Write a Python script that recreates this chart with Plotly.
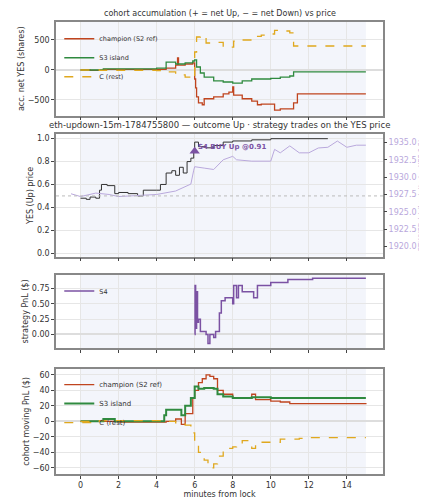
import plotly.graph_objects as go

# panel 1: accumulation
acc_t_ch = [0,0.5,1.2,4.2,4.5,5.0,5.1,5.15,5.5,5.9,6.0,6.05,6.1,6.2,6.4,6.5,7.0,7.5,7.8,8.0,8.05,8.5,9.0,9.3,9.5,10.0,10.2,10.5,11.0,11.2,11.4,15]
acc_ch = [0,-5,10,10,30,80,200,80,100,120,-150,-300,-450,-550,-580,-480,-450,-400,-370,-280,-420,-480,-520,-580,-570,-570,-670,-650,-650,-550,-400,-400]
acc_t_s3 = [0,1.2,4.0,4.5,5.0,5.5,5.9,6.0,6.1,6.3,6.5,7.0,7.5,8.0,8.5,9.0,10.0,10.5,11.0,11.2,15]
acc_s3 = [0,20,30,130,100,120,150,170,50,-50,-120,-180,-200,-220,-180,-150,-140,-120,-100,-30,-30]
acc_t_c = [0,1,4,4.5,5,5.5,5.9,6.0,6.1,6.3,6.6,7.0,7.5,8.0,8.05,8.5,9.0,9.5,10.0,10.2,10.5,11.0,11.2,15]
acc_c = [0,-5,-10,-30,-80,-120,-150,300,550,570,450,460,380,380,480,500,560,580,600,660,650,620,400,400]

# panel 2: YES price and ETH
yes_t = [0,0.3,0.5,0.8,1.0,1.1,1.4,1.8,2.0,2.5,3.0,3.3,4.0,4.2,4.5,4.8,5.0,5.2,5.4,5.6,5.8,5.95,6.0,6.2,6.6,7.0,7.5,8.0,9.0,10.0,13]
yes_p = [0.48,0.47,0.49,0.48,0.55,0.6,0.59,0.52,0.53,0.52,0.5,0.55,0.55,0.6,0.7,0.72,0.68,0.75,0.7,0.8,0.83,0.9,0.97,0.93,0.92,0.94,0.97,0.98,0.99,1.0,1.0]
eth_t = [-0.5,0,0.8,1.5,2,3,4,5,5.8,5.95,6,6.5,7,7.5,8,8.2,9,10,10.2,10.5,11,11.5,12,12.5,13,13.5,14,14.5,15]
eth_p = [1927.6,1927.2,1927.7,1927.5,1927.2,1927.3,1927.5,1928,1929,1931,1931.5,1931.3,1931.1,1932.5,1933,1932.5,1932.3,1932.3,1934,1933.5,1934.5,1933.5,1933.5,1934.2,1934.3,1935.2,1934.3,1934.6,1934.6]
trade_t = [6.0]
trade_p = [0.89]
trade_label = "S4 BUY Up @0.91"

# panel 3: S4 PnL
s4_t = [6.0,6.02,6.05,6.1,6.15,6.2,6.3,6.5,6.6,6.7,6.8,7.0,7.1,7.3,7.4,7.6,8.0,8.05,8.2,8.3,8.5,9.0,9.1,9.3,9.8,10,10.8,10.9,12,12.2,15]
s4_pnl = [0,0.8,0.1,0.7,0.2,0.25,0.05,0.05,0,-0.15,0,-0.05,0.05,0.35,0.55,0.6,0.5,0.8,0.6,0.8,0.7,0.7,0.6,0.8,0.8,0.85,0.85,0.9,0.9,0.92,0.92]

# panel 4: cohort PnL
pnl_t_ch = [0,1,2,4,4.5,5,5.3,5.5,5.7,5.9,6.0,6.2,6.4,6.6,6.8,7.0,7.2,7.5,8.0,8.5,9.0,9.2,10,10.5,11,15]
pnl_ch = [0,0,-1,-1,0,3,-4,10,10,30,40,50,55,60,58,55,40,35,30,30,35,28,26,25,23,22]
pnl_t_s3 = [0,1.2,1.8,4.2,4.4,4.5,5.0,5.3,5.5,5.8,6.0,6.2,6.5,7.0,7.2,7.5,8,8.5,9,10,15]
pnl_s3 = [0,3,0,0,8,15,15,8,20,30,45,42,43,42,35,32,30,30,31,30,30]
pnl_t_c = [0,1,4,4.5,5,5.5,5.8,6.0,6.2,6.5,6.7,7.0,7.2,7.5,8.0,8.2,8.5,9.0,9.2,10,10.5,11.5,12,15]
pnl_c = [0,1,1,0,-2,-5,-15,-25,-40,-50,-60,-55,-45,-35,-33,-30,-25,-35,-27,-27,-23,-22,-21,-21]

RED = "#c0441e"; GREEN = "#2f8a3f"; GOLD = "#e0a81e"; PURPLE = "#7b52a3"; LPURP = "#b9a8dc"

fig = go.Figure()
def step(x, y, color, name, xa, ya, dash="solid", width=1.3, legend=None, show=True):
    fig.add_trace(go.Scatter(x=x, y=y, mode="lines", line=dict(color=color, width=width, dash=dash, shape="hv"),
                             name=name, xaxis=xa, yaxis=ya, legend=legend, showlegend=show))

step(acc_t_ch, acc_ch, RED, "champion (S2 ref)", "x", "y", legend="legend")
step(acc_t_s3, acc_s3, GREEN, "S3 island", "x", "y", legend="legend")
step(acc_t_c, acc_c, GOLD, "C (rest)", "x", "y", dash="dash", legend="legend")

fig.add_trace(go.Scatter(x=eth_t, y=eth_p, mode="lines", line=dict(color=LPURP, width=1), xaxis="x2", yaxis="y5", showlegend=False))
step(yes_t, yes_p, "#333333", "YES", "x2", "y2", width=1, show=False)
fig.add_trace(go.Scatter(x=trade_t, y=trade_p, mode="markers", marker=dict(symbol="triangle-up", size=9, color=PURPLE),
                         xaxis="x2", yaxis="y2", showlegend=False))

step(s4_t, s4_pnl, PURPLE, "S4", "x3", "y3", width=1.5, legend="legend2")

step(pnl_t_ch, pnl_ch, RED, "champion (S2 ref)", "x4", "y4", legend="legend3")
step(pnl_t_s3, pnl_s3, GREEN, "S3 island", "x4", "y4", width=2, legend="legend3")
step(pnl_t_c, pnl_c, GOLD, "C (rest)", "x4", "y4", dash="dash", legend="legend3")

tf = dict(size=8, color="#333")
ax = dict(range=[-1.29, 15.9], showgrid=True, gridcolor="#e6e6e6", zeroline=False, showline=True, mirror=True,
          linecolor="#888", linewidth=1.5, ticks="outside", ticklen=3, tickfont=tf, dtick=2)
yax = dict(showgrid=True, gridcolor="#e6e6e6", zeroline=True, zerolinecolor="#ddd", showline=True, mirror=True,
           linecolor="#888", linewidth=1.5, ticks="outside", ticklen=3, tickfont=tf)
doms = {1: [0.793, 1], 2: [0.481, 0.752], 3: [0.279, 0.44], 4: [0, 0.233]}
leg = dict(xanchor="left", yanchor="top", font=dict(size=6.5), bgcolor="rgba(0,0,0,0)",
           tracegroupgap=0, itemwidth=30)
fig.update_layout(
    width=427, height=500, margin=dict(l=38, r=42, t=14, b=29), plot_bgcolor="white", paper_bgcolor="white",
    font=dict(family="DejaVu Sans", size=8, color="#333"),
    xaxis=dict(ax, domain=[0, 1], anchor="y", showticklabels=False),
    xaxis2=dict(ax, anchor="y2", matches="x", showticklabels=False),
    xaxis3=dict(ax, anchor="y3", matches="x", showticklabels=False),
    xaxis4=dict(ax, anchor="y4", matches="x", title=dict(text="minutes from lock", font=dict(size=8), standoff=0)),
    yaxis=dict(yax, domain=doms[1], range=[-760, 800], tickvals=[-500, 0, 500], ticktext=["−500", "0", "500"],
               title=dict(text="acc. net YES (shares)", font=dict(size=8), standoff=2)),
    yaxis2=dict(yax, domain=doms[2], range=[-0.03, 1.04], dtick=0.2, tickformat=".1f", zeroline=False,
                title=dict(text="YES (Up) price", font=dict(size=8), standoff=2)),
    yaxis5=dict(domain=doms[2], overlaying="y2", side="right", anchor="x2", range=[1918.55, 1936.2], dtick=2.5,
                tickformat=".1f", showgrid=False, ticks="outside", ticklen=3, tickfont=dict(size=8, color=LPURP),
                title=dict(text="ETH/USD (strike dotted = YES 0.5)", font=dict(size=6.5, color=LPURP), standoff=2)),
    yaxis3=dict(yax, domain=doms[3], range=[-0.22, 0.97], tickvals=[0, 0.25, 0.5, 0.75], tickformat=".2f",
                title=dict(text="strategy PnL ($)", font=dict(size=8), standoff=2)),
    yaxis4=dict(yax, domain=doms[4], range=[-68, 68],
                tickvals=[-60, -40, -20, 0, 20, 40, 60], ticktext=["−60", "−40", "−20", "0", "20", "40", "60"],
                title=dict(text="cohort moving PnL ($)", font=dict(size=8), standoff=2)),
    legend=dict(leg, x=0.01, y=0.995),
    legend2=dict(leg, x=0.01, y=0.437),
    legend3=dict(leg, x=0.01, y=0.23, font=dict(size=7)),
)
for xr, yr in [("x", "y"), ("x2", "y2"), ("x3", "y3"), ("x4", "y4")]:
    fig.add_shape(type="rect", xref=xr, yref=yr + " domain", x0=0, x1=15, y0=0, y1=1,
                  fillcolor="#eef1f9", opacity=0.7, line_width=0, layer="below")
fig.add_shape(type="line", xref="x2 domain", yref="y2", x0=0, x1=1, y0=0.5, y1=0.5,
              line=dict(color="#bbb", width=1, dash="dot"))
fig.add_annotation(x=trade_t[0], y=trade_p[0], xref="x2", yref="y2", text="<b>" + trade_label + "</b>",
                   showarrow=False, xanchor="left", yanchor="bottom", xshift=1, yshift=-2,
                   font=dict(size=7, color=PURPLE))
fig.add_annotation(x=0.5, y=1, xref="paper", yref="paper", yshift=2, yanchor="bottom", showarrow=False,
                   text="cohort accumulation (+ = net Up, − = net Down) vs price", font=dict(size=8))
fig.add_annotation(x=0.5, y=doms[2][1], xref="paper", yref="paper", yshift=2, yanchor="bottom", showarrow=False,
                   text="eth-updown-15m-1784755800 — outcome Up · strategy trades on the YES price", font=dict(size=8.5))
fig.write_html("out.html")
